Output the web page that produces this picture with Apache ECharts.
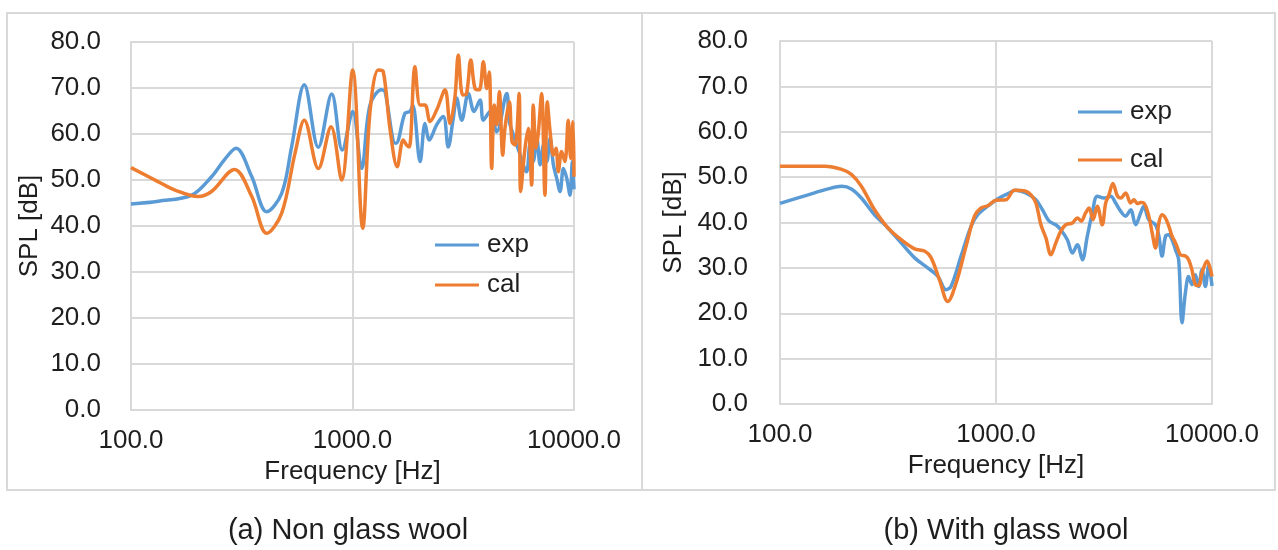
<!DOCTYPE html>
<html>
<head>
<meta charset="utf-8">
<script src="https://cdn.jsdelivr.net/npm/echarts@6/dist/echarts.min.js"></script>
<style>
html,body{margin:0;padding:0;background:#fff;}
#chart{width:1278px;height:550px;}
</style>
</head>
<body>
<div id="chart"></div>
<script>
// ---- Data (frequency in Hz, SPL in dB) ----
const seriesNames = ['exp', 'cal'];
const captions = ['(a) Non glass wool', '(b) With glass wool'];
const yTicks = [0, 10, 20, 30, 40, 50, 60, 70, 80];
const xTicks = [100, 1000, 10000];

// (a) Non glass wool
const aExpFreq = [100,133,188,231,265,298,351,410,479,531,606,701,806,899,1002,1100,1200,1355,1403,1529,1572,1725,1818,1870,2020,2125,2222,2398,2570,2705,2850,2952,3112,3334,3538,3767,3896,4176,4478,4970,5105,5324,5650,6107,6324,6547,6792,7030,7280,7540,7800,8070,8350,8650,8960,9270,9600,9830,10000];
const aExpSpl  = [44.8,45.4,46.7,50.7,54.5,56.9,50.7,43.1,47.1,57.2,70.7,57.1,68.7,56.5,64.9,52.5,66.3,69.6,69.2,58.3,58.0,64.5,64.9,66.3,54.0,62.3,58.7,62.0,63.8,57.2,63.4,67.8,63.0,68.8,64.9,67.4,63.0,64.9,60.5,68.8,62.7,59.8,56.2,51.8,57.6,54.0,59.1,53.3,57.6,54.0,59.1,53.3,50.4,47.5,52.5,50.4,46.7,54.0,48.0];
const aCalFreq = [100,133,158,201,231,293,351,410,479,550,606,701,800,893,1002,1112,1200,1309,1378,1476,1592,1694,1756,1804,1914,2020,2125,2240,2398,2618,2754,2900,3004,3143,3272,3419,3573,3735,3896,4036,4145,4250,4366,4480,4603,4767,4877,5105,5250,5420,5650,5745,6009,6219,6440,6547,6745,6907,7142,7392,7575,7800,8070,8300,8495,8790,9100,9418,9660,9900,10000];
const aCalSpl  = [52.7,49.6,47.8,46.4,47.5,52.3,46.4,38.4,42.8,55.8,63.0,52.5,61.6,50.0,73.9,39.5,64.9,73.9,73.5,61.2,52.9,58.7,57.6,57.2,74.6,66.3,66.3,62.7,65.2,69.6,62.3,68.0,77.2,68.5,68.8,76.1,69.9,69.6,75.7,69.9,73.5,52.5,66.3,62.0,69.2,55.4,61.2,67.0,58.3,57.6,68.8,47.5,56.9,61.2,48.9,66.3,56.9,60.5,68.8,46.7,67.0,60.5,55.4,56.9,51.8,56.2,54.0,63.0,54.7,62.7,50.7];

// (b) With glass wool
const bExpFreq = [100,135,167,193,214,238,274,316,364,420,483,537,587,619,689,767,822,915,1035,1151,1236,1374,1530,1641,1762,1892,1995,2140,2258,2381,2510,2647,2792,2944,3162,3394,3580,3776,3982,4200,4430,4672,4833,5098,5474,5675,5871,6095,6310,6530,6776,7010,7266,7530,7793,8070,8375,8670,8990,9316,9650,10000];
const bExpSpl  = [44.2,46.1,47.4,48.0,47.4,45.4,41.7,38.8,35.5,32.2,30.0,28.2,25.2,25.9,32.6,39.2,41.7,43.6,45.4,46.5,47.1,46.5,45.0,42.8,40.3,39.5,38.4,36.2,33.3,35.1,31.8,37.0,42.1,45.8,45.4,45.8,44.3,42.5,41.4,42.8,39.5,42.1,43.6,40.6,39.5,37.0,32.6,37.0,37.3,36.2,34.0,31.8,17.9,24.5,28.1,26.3,28.5,25.9,29.6,25.9,30.4,26.0];
const bCalFreq = [100,161,193,214,238,274,316,364,420,467,501,547,598,654,727,795,853,915,1000,1112,1216,1374,1452,1530,1614,1702,1795,1892,1995,2104,2258,2381,2480,2600,2698,2814,2944,3104,3220,3334,3476,3650,3776,3982,4200,4355,4520,4672,4833,5098,5284,5474,5675,5871,6080,6310,6532,6776,6950,7142,7530,7793,8072,8375,8674,8990,9479,10000];
const bCalSpl  = [52.4,52.4,51.7,50.6,48.0,42.8,38.8,36.2,34.2,33.7,32.2,27.4,22.6,26.7,34.8,41.4,43.2,43.7,44.9,45.0,47.1,46.9,46.1,44.3,39.5,36.6,32.9,35.5,38.1,39.5,39.9,41.0,40.3,42.1,43.2,40.6,43.6,39.5,44.3,46.1,48.6,45.8,45.4,46.5,44.3,45.0,44.2,44.4,44.3,41.4,37.7,34.4,39.9,41.7,41.0,39.2,37.0,35.5,34.2,32.9,32.6,31.8,29.6,26.3,26.1,28.9,31.5,28.1];

// ---- Chart ----
const FONT = '"Liberation Sans", Arial, sans-serif';
const TXT = '#1e1e1e';
const GRID = '#d9d9d9';
const COLORS = ['#5B9BD5', '#ED7D31'];
const zip = (xs, ys) => xs.map((x, i) => [x, ys[i]]);

function xAxisCfg(idx, gap) {
  return {
    type: 'log', logBase: 10, gridIndex: idx, min: xTicks[0], max: xTicks[xTicks.length - 1],
    name: 'Frequency [Hz]', nameLocation: 'middle', nameGap: gap,
    nameTextStyle: { fontFamily: FONT, fontSize: 26, color: TXT },
    axisLine: { show: true, lineStyle: { color: GRID, width: 2 } },
    axisTick: { show: false },
    axisLabel: { fontFamily: FONT, fontSize: 26, color: TXT, margin: 18,
      formatter: v => Math.round(v).toFixed(1) },
    splitLine: { show: true, lineStyle: { color: GRID, width: 2 } }
  };
}
function yAxisCfg(idx, gap, margin) {
  return {
    type: 'value', gridIndex: idx, min: yTicks[0], max: yTicks[yTicks.length - 1], interval: 10,
    name: 'SPL [dB]', nameLocation: 'middle', nameGap: gap,
    nameTextStyle: { fontFamily: FONT, fontSize: 26, color: TXT },
    axisLine: { show: true, lineStyle: { color: GRID, width: 2 } },
    axisTick: { show: false },
    axisLabel: { fontFamily: FONT, fontSize: 26, color: TXT, margin: margin,
      formatter: v => v.toFixed(1) },
    splitLine: { show: true, lineStyle: { color: GRID, width: 2 } }
  };
}
function lineSeries(name, idx, data, color) {
  return {
    name: name, type: 'line', xAxisIndex: idx, yAxisIndex: idx, data: data,
    symbol: 'none', smooth: 0.35, lineStyle: { color: color, width: 3.5 },
    itemStyle: { color: color }, silent: true, animation: false
  };
}

const chart = echarts.init(document.getElementById('chart'), null, { renderer: 'canvas' });
chart.setOption({
  backgroundColor: '#fff',
  animation: false,
  grid: [
    { left: 131, top: 42, width: 443, height: 368 },
    { left: 780, top: 41, width: 432, height: 363 }
  ],
  xAxis: [xAxisCfg(0, 45), xAxisCfg(1, 44)],
  yAxis: [yAxisCfg(0, 88, 30), yAxisCfg(1, 93, 32)],
  legend: [
    { data: seriesNames, orient: 'vertical', left: 430, top: 227, itemWidth: 44, itemHeight: 3,
      itemGap: 14, icon: 'rect', textStyle: { fontFamily: FONT, fontSize: 26, color: TXT, padding: [0,0,0,3] } },
    { data: seriesNames, orient: 'vertical', left: 1073, top: 94, itemWidth: 44, itemHeight: 3,
      itemGap: 22, icon: 'rect', textStyle: { fontFamily: FONT, fontSize: 26, color: TXT, padding: [0,0,0,3] } }
  ],
  series: [
    lineSeries(seriesNames[0], 0, zip(aExpFreq, aExpSpl), COLORS[0]),
    lineSeries(seriesNames[1], 0, zip(aCalFreq, aCalSpl), COLORS[1]),
    lineSeries(seriesNames[0], 1, zip(bExpFreq, bExpSpl), COLORS[0]),
    lineSeries(seriesNames[1], 1, zip(bCalFreq, bCalSpl), COLORS[1])
  ],
  graphic: [
    { type: 'rect', shape: { x: 7, y: 13, width: 635, height: 477 }, style: { fill: 'none', stroke: GRID, lineWidth: 2 }, silent: true },
    { type: 'rect', shape: { x: 642, y: 13, width: 633, height: 477 }, style: { fill: 'none', stroke: GRID, lineWidth: 2 }, silent: true },
    { type: 'text', x: 348, y: 531, style: { text: captions[0], font: '29px ' + FONT, fill: TXT, align: 'center', verticalAlign: 'middle' }, silent: true },
    { type: 'text', x: 1006, y: 531, style: { text: captions[1], font: '29px ' + FONT, fill: TXT, align: 'center', verticalAlign: 'middle' }, silent: true }
  ]
});
</script>
</body>
</html>
